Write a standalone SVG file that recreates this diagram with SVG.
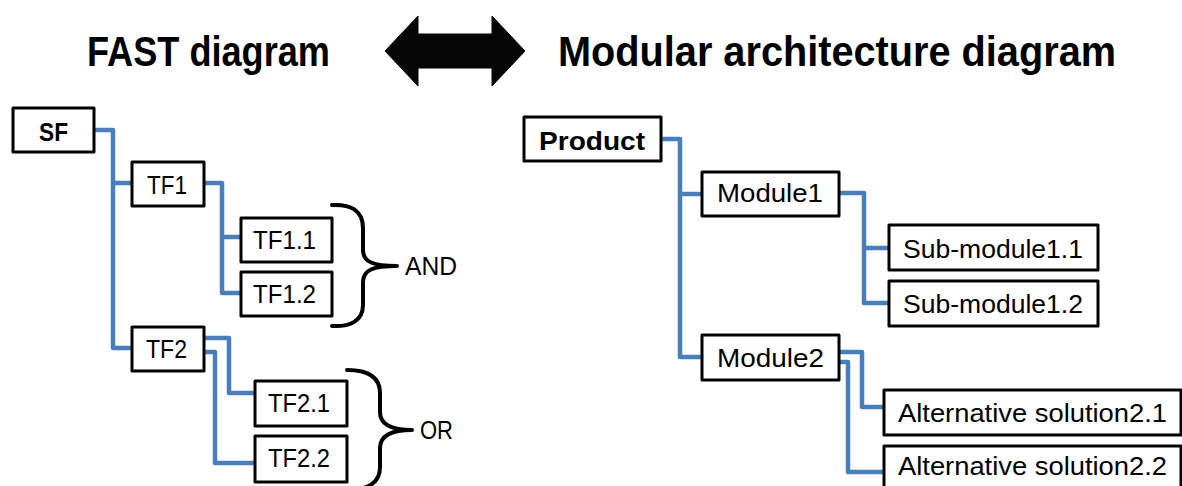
<svg xmlns="http://www.w3.org/2000/svg" width="1182" height="486" viewBox="0 0 1182 486">
<style>
.box{fill:#fff;stroke:#000;stroke-width:3;stroke-linejoin:round}
.t{font-family:"Liberation Sans",Arial,sans-serif;font-size:25px;fill:#000}
.b{font-weight:bold}
.title{font-family:"Liberation Sans",Arial,sans-serif;font-size:42px;font-weight:bold;fill:#000}
.con{fill:none;stroke:#4A7EBB;stroke-width:4.5;stroke-linejoin:round}
.brace{fill:none;stroke:#000;stroke-width:4;stroke-linecap:round;stroke-linejoin:round}
</style>
<rect width="1182" height="486" fill="#fff"/>
<g id="titles">
<text class="title" x="87" y="66" textLength="243" lengthAdjust="spacingAndGlyphs">FAST diagram</text>
<text class="title" x="558" y="66" textLength="558" lengthAdjust="spacingAndGlyphs">Modular architecture diagram</text>
<polygon id="double-arrow" points="385,51 418,16 418,34 492,34 492,16 525,51 492,86 492,68 418,68 418,86" fill="#050505" stroke="#050505" stroke-width="1" stroke-linejoin="round"/>
</g>
<g id="connectors">
<path class="con" d="M95,130 H113 V348 H131 M113,183 H131"/>
<path class="con" d="M205,183 H222 V293 H240 M222,237 H240"/>
<path class="con" d="M205,338 H229 V393 H254 M205,352 H215 V463 H254"/>
<path class="con" d="M662,139 H680 V357 H701 M680,194 H701"/>
<path class="con" d="M840,193 H864 V303 H888 M864,248 H888"/>
<path class="con" d="M840,352 H862 V407 H883 M840,362 H848 V472 H883"/>
</g>
<g id="SF"><rect class="box" x="13" y="108" width="81" height="44"/><text class="t b" x="39" y="141" textLength="29" lengthAdjust="spacingAndGlyphs">SF</text></g>
<g id="TF1"><rect class="box" x="132" y="162" width="72" height="44"/><text class="t" x="147" y="194" textLength="40" lengthAdjust="spacingAndGlyphs">TF1</text></g>
<g id="TF1.1"><rect class="box" x="241" y="218" width="91" height="44"/><text class="t" x="253" y="249" textLength="63" lengthAdjust="spacingAndGlyphs">TF1.1</text></g>
<g id="TF1.2"><rect class="box" x="241" y="272" width="91" height="44"/><text class="t" x="253" y="303" textLength="63" lengthAdjust="spacingAndGlyphs">TF1.2</text></g>
<g id="TF2"><rect class="box" x="132" y="327" width="72" height="44"/><text class="t" x="146" y="358" textLength="41" lengthAdjust="spacingAndGlyphs">TF2</text></g>
<g id="TF2.1"><rect class="box" x="255" y="381" width="92" height="45"/><text class="t" x="268" y="412" textLength="62" lengthAdjust="spacingAndGlyphs">TF2.1</text></g>
<g id="TF2.2"><rect class="box" x="255" y="436" width="92" height="46"/><text class="t" x="268" y="467" textLength="62" lengthAdjust="spacingAndGlyphs">TF2.2</text></g>
<g id="AND">
<path class="brace" d="M332,205 C350,204 363,210 363,228 V250 C363,262 373,266 397,266 C373,266 363,270 363,282 V305 C363,321 350,327 332,326"/>
<text class="t" x="405" y="275" font-size="22" textLength="52" lengthAdjust="spacingAndGlyphs">AND</text>
</g>
<g id="OR">
<path class="brace" d="M347,370 C366,370 380,376 380,393 V412 C380,424 390,430 412,430 C390,430 380,436 380,448 V467 C380,484 366,490 347,490"/>
<text class="t" x="420" y="439" font-size="22" textLength="33" lengthAdjust="spacingAndGlyphs">OR</text>
</g>
<g id="Product"><rect class="box" x="524" y="117" width="137" height="44"/><text class="t b" x="539" y="150" textLength="106" lengthAdjust="spacingAndGlyphs">Product</text></g>
<g id="Module1"><rect class="box" x="702" y="172" width="137" height="44"/><text class="t" x="717" y="202" textLength="106" lengthAdjust="spacingAndGlyphs">Module1</text></g>
<g id="Sub-module1.1"><rect class="box" x="889" y="225" width="209" height="45"/><text class="t" x="903" y="258" textLength="180" lengthAdjust="spacingAndGlyphs">Sub-module1.1</text></g>
<g id="Sub-module1.2"><rect class="box" x="889" y="281" width="209" height="45"/><text class="t" x="903" y="313" textLength="180" lengthAdjust="spacingAndGlyphs">Sub-module1.2</text></g>
<g id="Module2"><rect class="box" x="702" y="335" width="137" height="45"/><text class="t" x="717" y="367" textLength="107" lengthAdjust="spacingAndGlyphs">Module2</text></g>
<g id="Alternative-solution2.1"><rect class="box" x="884" y="390" width="297" height="45"/><text class="t" x="898" y="422" textLength="269" lengthAdjust="spacingAndGlyphs">Alternative solution2.1</text></g>
<g id="Alternative-solution2.2"><rect class="box" x="884" y="446" width="297" height="46"/><text class="t" x="898" y="475" textLength="269" lengthAdjust="spacingAndGlyphs">Alternative solution2.2</text></g>
</svg>
